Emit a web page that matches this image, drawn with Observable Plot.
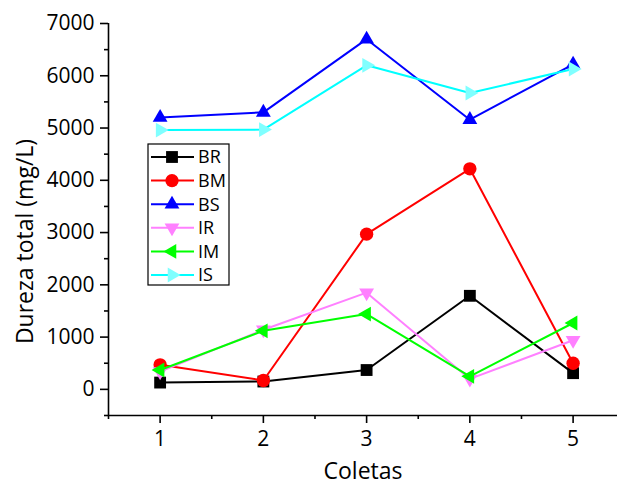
<!DOCTYPE html>
<html>
<head>
<meta charset="utf-8">
<script src="https://cdn.jsdelivr.net/npm/d3@7"></script>
<script src="https://cdn.jsdelivr.net/npm/@observablehq/plot@0.6"></script>
<style>
  html, body { margin: 0; padding: 0; background: #fff; }
  #wrap { position: relative; width: 617px; height: 488px; font-family: "Open Sans", sans-serif; }
  #legend { position: absolute; left: 0; top: 0; pointer-events: none; }
</style>
</head>
<body>
<div id="wrap"></div>
<script>
// ---- data ----
const coletas = [1, 2, 3, 4, 5];
const seriesNames = ["BR", "BM", "BS", "IR", "IM", "IS"];
const BR = [130, 150, 370, 1790, 310];
const BM = [470, 170, 2970, 4220, 500];
const BS = [5200, 5300, 6700, 5160, 6220];
const IR = [340, 1140, 1850, 200, 940];
const IM = [370, 1120, 1440, 250, 1270];
const IS = [4960, 4970, 6200, 5670, 6130];
const values = {BR, BM, BS, IR, IM, IS};
const lineColors = {BR: "#000000", BM: "#ff0000", BS: "#0000ff", IR: "#ff80ff", IM: "#00ff00", IS: "#00ffff"};
const markColors = {BR: "#000000", BM: "#ff0000", BS: "#0000ff", IR: "#ff80ff", IM: "#00ff00", IS: "#80ffff"};
const yMajor = [0, 1000, 2000, 3000, 4000, 5000, 6000, 7000];
const yMinor = [-500, 500, 1500, 2500, 3500, 4500, 5500, 6500];
const xMajor = [1, 2, 3, 4, 5];
const xMinor = [0.5, 1.5, 2.5, 3.5, 4.5];
const xDomain = [0.5, 5.43];
const yDomain = [-500, 7000];

// ---- symbols ----
function tri(angleDeg) {
  return {
    draw(context, size) {
      const s = Math.sqrt(size * 4 / Math.sqrt(3));
      const R = s / Math.sqrt(3);
      for (let i = 0; i < 3; i++) {
        const a = (angleDeg + i * 120) * Math.PI / 180;
        const x = R * Math.cos(a), y = R * Math.sin(a);
        if (i) context.lineTo(x, y); else context.moveTo(x, y);
      }
      context.closePath();
    }
  };
}
const symbols = {
  BR: d3.symbolSquare, BM: d3.symbolCircle, BS: tri(-90),
  IR: tri(90), IM: tri(180), IS: tri(0)
};
const areas = {BR: 140, BM: 140, BS: 95, IR: 95, IM: 95, IS: 95};

const rows = [];
for (const name of seriesNames) {
  values[name].forEach((v, i) => rows.push({serie: name, coleta: coletas[i], valor: v}));
}

const marks = [];
for (const name of seriesNames) {
  const data = rows.filter(d => d.serie === name);
  marks.push(Plot.line(data, {x: "coleta", y: "valor", stroke: lineColors[name], strokeWidth: 2}));
  marks.push(Plot.dot(data, {x: "coleta", y: "valor", symbol: () => symbols[name], fill: markColors[name], stroke: "none", r: Math.sqrt(areas[name] / Math.PI)}));
}

const chart = Plot.plot({
  width: 617,
  height: 488,
  marginLeft: 108,
  marginRight: 0,
  marginTop: 23,
  marginBottom: 73,
  style: {fontFamily: "Open Sans, sans-serif", fontSize: "21px", color: "#000", background: "#fff"},
  x: {domain: xDomain},
  y: {domain: yDomain},
  symbol: {type: "identity"},
  marks: [
    ...marks,
    Plot.ruleY([yDomain[0]], {stroke: "#000", strokeWidth: 1.6}),
    Plot.ruleX([xDomain[0]], {y1: yDomain[0], y2: yDomain[1], stroke: "#000", strokeWidth: 1.6}),
    Plot.axisY(yMajor, {tickSize: 8, tickPadding: 6, strokeWidth: 1.6, fontSize: 21, tickFormat: d => String(d),
      label: "Dureza total (mg/L)", labelAnchor: "center", labelArrow: false, labelOffset: 92}),
    Plot.axisY(yMinor, {tickSize: 4, strokeWidth: 1.6, tickFormat: () => "", label: null}),
    Plot.axisX(xMajor, {tickSize: 8, tickPadding: 8, strokeWidth: 1.6, fontSize: 21, tickFormat: d => String(d),
      label: "Coletas", labelAnchor: "center", labelArrow: false, labelOffset: 63}),
    Plot.axisX(xMinor, {tickSize: 4, strokeWidth: 1.6, tickFormat: () => "", label: null})
  ]
});
d3.select(chart).selectAll("g[aria-label='y-axis label'] text, g[aria-label='x-axis label'] text").style("font-size", "23px");
d3.select(chart).selectAll("g[aria-label='y-axis label'] text").each(function() {
  const t = this.getAttribute("transform") || "";
  this.setAttribute("transform", "translate(0,22) " + t);
});
document.getElementById("wrap").appendChild(chart);

// ---- legend ----
const lg = d3.select("#wrap").append("svg").attr("id", "legend").attr("width", 617).attr("height", 488);
lg.append("rect").attr("x", 148).attr("y", 144).attr("width", 81).attr("height", 141)
  .attr("fill", "#fff").attr("stroke", "#000").attr("stroke-width", 1.2);
seriesNames.forEach((name, i) => {
  const y = 157 + i * 23.6;
  lg.append("line").attr("x1", 151).attr("x2", 194).attr("y1", y).attr("y2", y)
    .attr("stroke", lineColors[name]).attr("stroke-width", 2);
  lg.append("path").attr("transform", `translate(172,${y})`)
    .attr("d", d3.symbol(symbols[name], areas[name])()).attr("fill", markColors[name]);
  lg.append("text").attr("x", 198).attr("y", y).attr("dy", "0.36em")
    .style("font-family", "Open Sans, sans-serif").style("font-size", "18px").text(name);
});
</script>
</body>
</html>
